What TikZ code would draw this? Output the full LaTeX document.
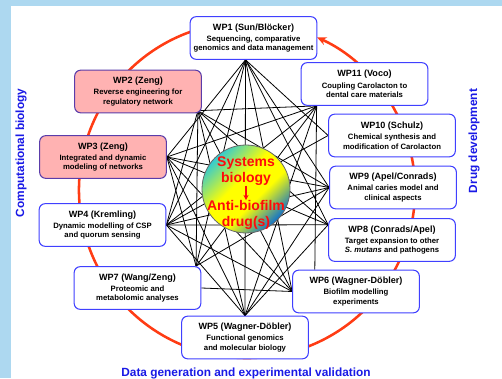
\documentclass[tikz,border=0pt]{standalone}
\usepackage{fontspec}
\setmainfont{Liberation Sans}
\usetikzlibrary{positioning,arrows.meta}
\pgfdeclarelayer{background}
\pgfsetlayers{background,main}
\definecolor{wpblue}{RGB}{64,64,255}
\definecolor{wpviolet}{RGB}{90,60,170}
\definecolor{pinkfill}{RGB}{255,178,178}
\definecolor{ringred}{RGB}{255,60,20}
\definecolor{sideblue}{RGB}{25,25,230}
\definecolor{hubred}{RGB}{255,10,10}
\definecolor{frameblue}{RGB}{173,216,240}
\definecolor{hubcyan}{RGB}{40,200,220}
\definecolor{hubblue}{RGB}{0,105,215}
\pgfdeclareverticalshading{hubshade}{100bp}{color(0bp)=(hubblue); color(24bp)=(hubblue); color(42bp)=(yellow); color(56bp)=(yellow); color(76bp)=(hubcyan); color(100bp)=(hubcyan)}
\newcommand\wptitle[1]{{\fontsize{6.8}{8}\selectfont #1}\\[1.2pt]}

\begin{document}
\begin{tikzpicture}[x=0.75pt,y=0.75pt,
    wp/.style={draw=wpblue, fill=white, line width=0.8pt, rounded corners=4.5pt, minimum width=95pt, minimum height=32pt, inner sep=1pt, align=center, font=\fontsize{5.8}{7.2}\selectfont\bfseries},
    wpred/.style={wp, draw=wpviolet, fill=pinkfill},
    link/.style={line width=0.6pt, black},
    ring/.style={draw=ringred, line width=1.9pt},
    side/.style={font=\fontsize{8.9}{10}\selectfont\bfseries, text=sideblue, inner sep=0pt},
    hubtext/.style={font=\fontsize{10.5}{12}\selectfont\bfseries, text=hubred, align=center, inner sep=0pt},
]
    \useasboundingbox (0,0) rectangle (502,378);

    \node[wp] (wp1) at (253.5,340) {\wptitle{WP1 (Sun/Blöcker)}Sequencing, comparative\\genomics and data management};
    \node[wpred] (wp2) at (138,286.5) {\wptitle{WP2 (Zeng)}Reverse engineering for\\regulatory network};
    \node[wpred] (wp3) at (103,221) {\wptitle{WP3 (Zeng)}Integrated and dynamic\\modeling of networks};
    \node[wp] (wp4) at (102.5,153) {\wptitle{WP4 (Kremling)}Dynamic modelling of CSP\\and quorum sensing};
    \node[wp] (wp7) at (137.5,90) {\wptitle{WP7 (Wang/Zeng)}Proteomic and\\metabolomic analyses};
    \node[wp] (wp5) at (245,40.5) {\wptitle{WP5 (Wagner-Döbler)}Functional genomics\\and molecular biology};
    \node[wp] (wp6) at (356,86.5) {\wptitle{WP6 (Wagner-Döbler)}Biofilm modelling\\experiments};
    \node[wp] (wp8) at (392,138) {\wptitle{WP8 (Conrads/Apel)}Target expansion to other\\\textit{S. mutans} and pathogens};
    \node[wp] (wp9) at (393,190.5) {\wptitle{WP9 (Apel/Conrads)}Animal caries model and\\clinical aspects};
    \node[wp] (wp10) at (392,242.5) {\wptitle{WP10 (Schulz)}Chemical synthesis and\\modification of Carolacton};
    \node[wp] (wp11) at (364.5,294) {\wptitle{WP11 (Voco)}Coupling Carolacton to\\dental care materials};

    \node[circle, minimum size=66pt, draw=black!60, line width=0.6pt, shading=hubshade, shading angle=45] (hub) at (246,189) {};
    \node[hubtext] (sysbio) at (246,207) {Systems\\biology};
    \node[hubtext] (drug) at (246,163) {Anti-biofilm\\drug(s)};
    \draw[hubred, line width=1pt, -{Stealth[length=4pt,width=4pt]}] (sysbio) -- (drug);

    \node[side, rotate=90] (compbio) at (21,225) {Computational biology};
    \node[side, rotate=90] (drugdev) at (474,237) {Drug development};
    \node[side, anchor=base] (datagen) at (246,1.5) {Data generation and experimental validation};

    \coordinate (h1) at ([xshift=-6pt]wp1.south);
    \coordinate (h2) at ([xshift=-3pt,yshift=2pt]wp2.south east);
    \coordinate (h3) at (wp3.east);
    \coordinate (h4) at (wp4.east);
    \coordinate (h7) at ([xshift=-4pt]wp7.north east);
    \coordinate (h7b) at (wp7.east);
    \coordinate (h5) at (wp5.north);
    \coordinate (h6) at (wp6.west);
    \coordinate (h6b) at ([xshift=17pt]wp6.north west);
    \coordinate (h8) at ([yshift=-5pt]wp8.north west);
    \coordinate (h9) at (wp9.west);
    \coordinate (h10) at (wp10.west);
    \coordinate (h11) at ([xshift=12pt]wp11.south west);
    \coordinate (ringc) at (247,188);

    \begin{pgfonlayer}{background}
        \fill[frameblue] (0,0) rectangle (502,378);
        \fill[white] (11,0) rectangle (502,372);
        \draw[ring, -{Stealth[length=7pt,width=6pt]}] (ringc) ++(108:168) arc[start angle=-252, end angle=65.4, radius=168];
        \foreach \a/\b in {h1/h3, h1/h4, h1/h7, h1/h5, h1/h6, h1/h8, h1/h9, h1/h10,
                           h2/h4, h2/h7, h2/h5, h2/h6, h2/h8, h2/h9, h2/h11,
                           h3/h5, h3/h6, h3/h8, h3/h9, h3/h11, h3/h7,
                           h4/h11, h4/h10, h4/h9, h4/h8, h4/h6, h4/h5,
                           h7b/h6, h7/h11, h7/h9, h5/h11, h5/h9, h5/h8, h11/h6b}
            \draw[link] (\a) -- (\b);
    \end{pgfonlayer}
\end{tikzpicture}
\end{document}
